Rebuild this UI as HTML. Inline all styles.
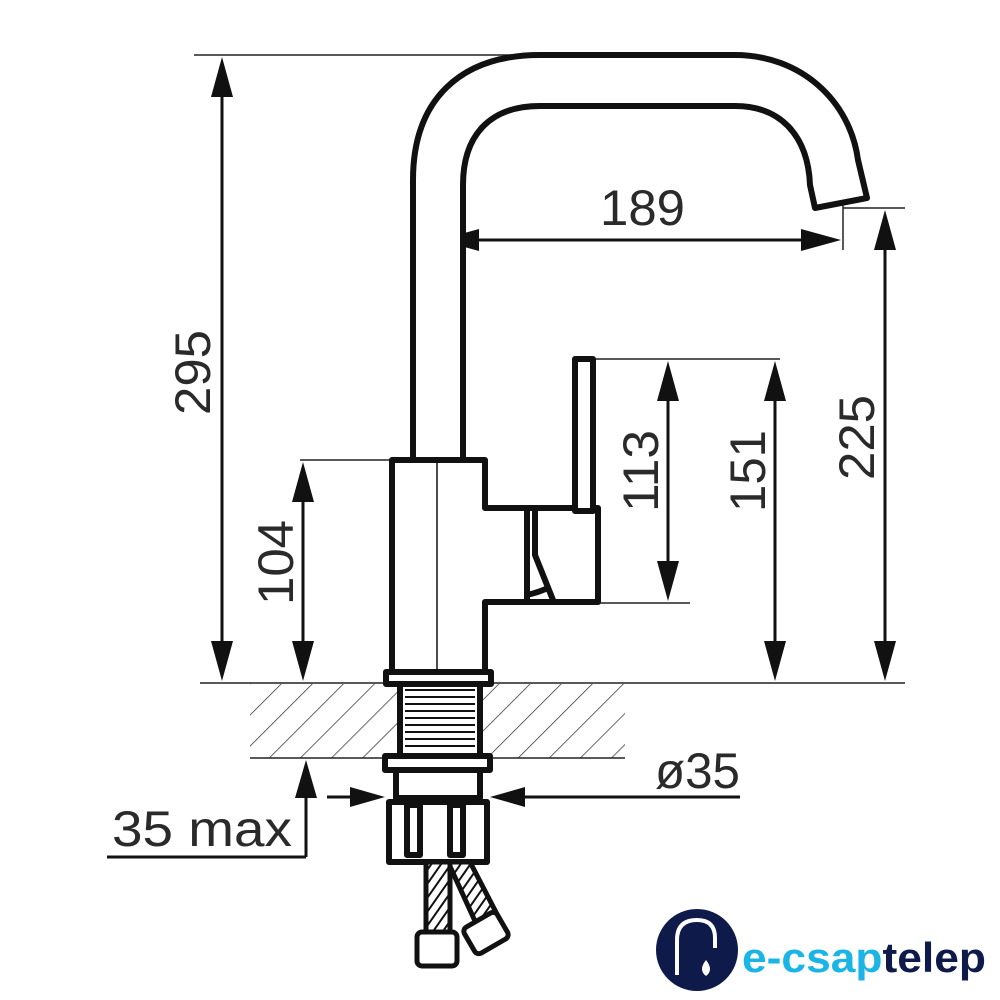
<!DOCTYPE html>
<html><head><meta charset="utf-8"><style>
html,body{margin:0;padding:0;background:#fff;}
svg{display:block;}
.d{font-family:"Liberation Sans",sans-serif;font-size:50px;fill:#2a2a2a;}
</style></head><body>
<svg width="1000" height="1000" viewBox="0 0 1000 1000" xmlns="http://www.w3.org/2000/svg">
<defs>
<pattern id="h" width="22" height="22" patternUnits="userSpaceOnUse" patternTransform="rotate(45)">
<line x1="0" y1="0" x2="0" y2="22" stroke="#333" stroke-width="1.5"/>
</pattern>
<pattern id="br" width="8" height="8" patternUnits="userSpaceOnUse" patternTransform="rotate(35)">
<rect width="8" height="8" fill="#fff"/>
<line x1="0" y1="0" x2="0" y2="8" stroke="#111" stroke-width="4"/>
</pattern>
</defs>
<rect x="250" y="684" width="375" height="74" fill="url(#h)"/>
<line x1="250" y1="758" x2="625" y2="758" stroke="#222" stroke-width="1.5"/>
<g stroke="#222" stroke-width="1.5" fill="none">
<line x1="194" y1="55" x2="540" y2="55"/>
<line x1="200" y1="683" x2="905" y2="683"/>
<line x1="437" y1="200" x2="437" y2="672"/>
<line x1="843" y1="205" x2="843" y2="250"/>
<line x1="843" y1="208" x2="905" y2="208"/>
<line x1="593" y1="359" x2="780" y2="359"/>
<line x1="598" y1="603" x2="690" y2="603"/>
<line x1="300" y1="460" x2="392" y2="460"/>
</g>
<g stroke="#111" stroke-width="3" fill="none">
<line x1="222" y1="90" x2="222" y2="650"/>
<line x1="303" y1="495" x2="303" y2="650"/>
<line x1="306" y1="790" x2="306" y2="857"/>
<line x1="107" y1="857" x2="306" y2="857"/>
<line x1="470" y1="240" x2="810" y2="240"/>
<line x1="885" y1="245" x2="885" y2="650"/>
<line x1="668" y1="395" x2="668" y2="570"/>
<line x1="775" y1="395" x2="775" y2="650"/>
<line x1="327" y1="797" x2="360" y2="797"/>
<line x1="515" y1="797" x2="740" y2="797"/>
</g>
<g fill="#111">
<polygon points="222,57 211,97 233,97"/><polygon points="222,681 211,641 233,641"/>
<polygon points="303,462 292,502 314,502"/><polygon points="303,681 292,641 314,641"/>
<polygon points="306,760 295,798 317,798"/>
<polygon points="439,240 479,229 479,251"/><polygon points="841,240 801,229 801,251"/>
<polygon points="885,210 874,250 896,250"/><polygon points="885,681 874,641 896,641"/>
<polygon points="668,361 657,401 679,401"/><polygon points="668,601 657,561 679,561"/>
<polygon points="775,361 764,401 786,401"/><polygon points="775,681 764,641 786,641"/>
<polygon points="385,797 350,787 350,807"/><polygon points="490,797 525,787 525,807"/>
</g>
<text class="d" x="600" y="225" textLength="85" lengthAdjust="spacingAndGlyphs">189</text>
<text class="d" x="655" y="788" font-size="46" textLength="85" lengthAdjust="spacingAndGlyphs">ø35</text>
<text class="d" x="112" y="846" font-size="48" textLength="180" lengthAdjust="spacingAndGlyphs">35 max</text>
<text class="d" transform="translate(210,415) rotate(-90)" textLength="85" lengthAdjust="spacingAndGlyphs">295</text>
<text class="d" transform="translate(293,605) rotate(-90)" textLength="85" lengthAdjust="spacingAndGlyphs">104</text>
<text class="d" transform="translate(658,512) rotate(-90)" textLength="82" lengthAdjust="spacingAndGlyphs">113</text>
<text class="d" transform="translate(765,512) rotate(-90)" textLength="82" lengthAdjust="spacingAndGlyphs">151</text>
<text class="d" transform="translate(874,480) rotate(-90)" textLength="85" lengthAdjust="spacingAndGlyphs">225</text>
<g stroke="#111" stroke-width="6" fill="#fff" stroke-linejoin="round">
<path d="M413,460 L413,180 C413,100 460,55 540,55 L735,55 C800,55 850,100 858,160 L867,198 L815,208 L810,185 C808,135 780,106 735,106 L540,106 C490,106 463,135 463,185 L463,460"/>
<path d="M392,460 L485,460 L485,508 L598,508 L598,602 L485,602 L485,672 L392,672 Z"/>
<rect x="575" y="359" width="18" height="152"/>
<path d="M527,510 L527,600 M535,510 L535,555 L553,600 M527,595 Q540,592 550,587" fill="none"/>
<rect x="386" y="672" width="105" height="12"/>
<rect x="400" y="684" width="80" height="72"/>
<rect x="385" y="756" width="105" height="14"/>
<rect x="396" y="770" width="84" height="28"/>
<rect x="389" y="802" width="98" height="60"/>
<rect x="407" y="805" width="13" height="50"/>
<rect x="450" y="805" width="13" height="50"/>
</g>
<line x1="437" y1="460" x2="437" y2="672" stroke="#111" stroke-width="1.5"/>
<g stroke="#111" stroke-width="2">
<line x1="405" y1="690" x2="475" y2="690"/><line x1="405" y1="697" x2="475" y2="697"/>
<line x1="405" y1="704" x2="475" y2="704"/><line x1="405" y1="711" x2="475" y2="711"/>
<line x1="405" y1="718" x2="475" y2="718"/><line x1="405" y1="725" x2="475" y2="725"/>
<line x1="405" y1="732" x2="475" y2="732"/><line x1="405" y1="739" x2="475" y2="739"/>
<line x1="405" y1="746" x2="475" y2="746"/>
</g>
<g stroke="#111" stroke-width="5" stroke-linejoin="round">
<path d="M448,862 L470,862 L500,920 L480,932 Z" fill="url(#br)"/>
<rect x="426" y="862" width="24" height="72" fill="url(#br)"/>
<rect x="417" y="932" width="40" height="34" rx="5" fill="#fff"/>
<rect x="467" y="918" width="38" height="30" rx="5" fill="#fff" transform="rotate(-30 486 933)"/>
</g>
<circle cx="697" cy="950" r="41" fill="#0e1a4a"/>
<path d="M677,975 L677,940 Q677,920 697,920 Q715,920 715,938 L715,948" stroke="#fff" stroke-width="4" fill="none"/>
<path d="M706,960 Q698,970 706,976 Q714,970 706,960 Z" fill="#fff"/>
<text x="742" y="972" font-family="Liberation Sans,sans-serif" font-weight="bold" font-size="42" fill="#1ab4e6" textLength="244" lengthAdjust="spacingAndGlyphs">e-csap<tspan fill="#0e1a4a">telep</tspan></text>
</svg>
</body></html>
